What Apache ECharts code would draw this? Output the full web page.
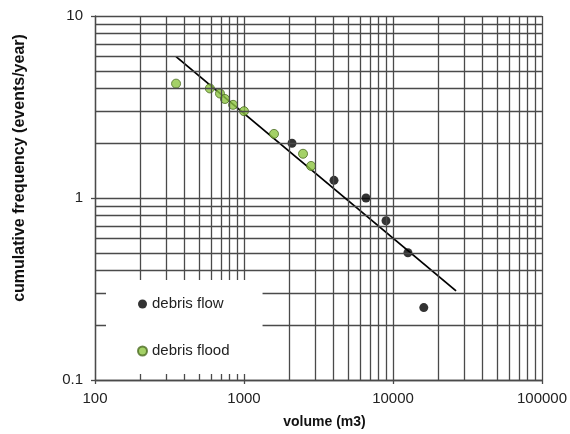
<!DOCTYPE html>
<html>
<head>
<meta charset="utf-8">
<script src="https://cdn.jsdelivr.net/npm/echarts@6/dist/echarts.min.js"></script>
<style>html,body{margin:0;padding:0;background:#fff}#c{width:570px;height:434px}</style>
</head>
<body>
<div id="c"></div>
<script>
// Data
var floodVolume = [350, 590, 690, 745, 845, 1000, 1590, 2490, 2820];
var floodFreq   = [4.25, 4.0, 3.75, 3.5, 3.25, 3.0, 2.25, 1.75, 1.5];
var flowVolume  = [2100, 4020, 6590, 8980, 12600, 16100];
var flowFreq    = [2.0, 1.25, 1.0, 0.75, 0.5, 0.25];
var trendVolume = [350, 26500];
var trendFreq   = [5.98, 0.309];
var xTicks = [100, 1000, 10000, 100000];
var yTicks = [0.1, 1, 10];
var minorSteps = [2, 3, 4, 5, 6, 7, 8, 9];

var gridColor = '#4a4a4a';
var font = 'Liberation Sans, Arial, sans-serif';

function zip(a, b) { return a.map(function (v, i) { return [v, b[i]]; }); }

var minorLines = [];
xTicks.slice(0, -1).forEach(function (d) {
  minorSteps.forEach(function (s) { minorLines.push({ xAxis: d * s }); });
});
yTicks.slice(0, -1).forEach(function (d) {
  minorSteps.forEach(function (s) { minorLines.push({ yAxis: +(d * s).toPrecision(3) }); });
});

var chart = echarts.init(document.getElementById('c'), null, { renderer: 'canvas' });
chart.setOption({
  animation: false,
  backgroundColor: '#fff',
  textStyle: { fontFamily: font },
  grid: { left: 95, right: 28, top: 16, bottom: 51 },
  xAxis: {
    type: 'log', logBase: 10, min: 100, max: 100000,
    name: 'volume (m3)', nameLocation: 'middle', nameGap: 35,
    nameTextStyle: { fontFamily: font, fontSize: 14, fontWeight: 'bold', color: '#111', padding: [0, 0, 0, 12] },
    axisLine: { show: true, lineStyle: { color: gridColor, width: 1.3 } },
    axisTick: { show: true, length: 4, lineStyle: { color: gridColor, width: 1.3 } },
    axisLabel: { fontFamily: font, fontSize: 15, color: '#222', margin: 11,
      formatter: function (v) { return String(v); } },
    splitLine: { show: true, lineStyle: { color: gridColor, width: 1.3 } },
    minorTick: { show: false }, minorSplitLine: { show: false }
  },
  yAxis: {
    type: 'log', logBase: 10, min: 0.1, max: 10,
    name: 'cumulative frequency (events/year)', nameLocation: 'middle', nameGap: 67,
    nameTextStyle: { fontFamily: font, fontSize: 16, fontWeight: 'bold', color: '#111', padding: [0, 0, 0, 60] },
    axisLine: { show: true, lineStyle: { color: gridColor, width: 1.3 } },
    axisTick: { show: true, length: 4, lineStyle: { color: gridColor, width: 1.3 } },
    axisLabel: { fontFamily: font, fontSize: 15, color: '#222', margin: 12,
      formatter: function (v) { return String(+v.toPrecision(3)); } },
    splitLine: { show: true, lineStyle: { color: gridColor, width: 1.3 } },
    minorTick: { show: false }, minorSplitLine: { show: false }
  },
  legend: {
    data: ['debris flow', 'debris flood'],
    orient: 'vertical', left: 106, top: 280,
    backgroundColor: '#fff',
    padding: [16, 33, 15, 31],
    itemGap: 31, itemWidth: 9, itemHeight: 9,
    icon: 'circle',
    textStyle: { fontFamily: font, fontSize: 15, color: '#222', lineHeight: 16 },
    z: 10
  },
  series: [
    {
      name: 'grid', type: 'line', data: [], z: 1, silent: true,
      markLine: {
        silent: true, symbol: 'none', animation: false,
        label: { show: false },
        lineStyle: { color: gridColor, width: 1.3, type: 'solid' },
        emphasis: { disabled: true },
        data: minorLines
      }
    },
    {
      name: 'trend', type: 'line', data: zip(trendVolume, trendFreq),
      showSymbol: false, symbol: 'none', z: 3,
      lineStyle: { color: '#000', width: 1.8 }
    },
    {
      name: 'debris flow', type: 'scatter', data: zip(flowVolume, flowFreq),
      symbol: 'circle', symbolSize: 9, z: 4,
      itemStyle: { color: '#000' }
    },
    {
      name: 'debris flood', type: 'scatter', data: zip(floodVolume, floodFreq),
      symbol: 'circle', symbolSize: 9, z: 4,
      itemStyle: { color: '#8DC641', borderColor: '#4B6B22', borderWidth: 1 }
    }
  ]
});
</script>
</body>
</html>
